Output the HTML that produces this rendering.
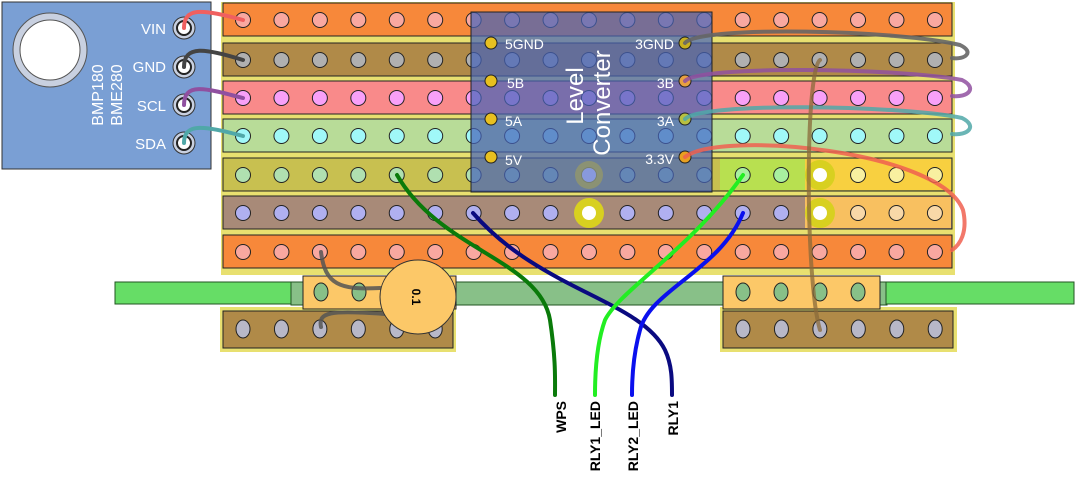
<!DOCTYPE html>
<html><head><meta charset="utf-8"><style>
html,body{margin:0;padding:0;background:#fff;width:1076px;height:481px;overflow:hidden}
svg{display:block;font-family:"Liberation Sans",sans-serif}
</style></head><body>
<svg id="s" width="1076" height="481" viewBox="0 0 1076 481" xmlns="http://www.w3.org/2000/svg">
<rect x="115" y="282" width="178" height="22" fill="#66dd66" stroke="#225522"/>
<rect x="291" y="282" width="596" height="23" fill="#88c088" stroke="#225522"/>
<rect x="886" y="282" width="188" height="22" fill="#66dd66" stroke="#225522"/>
<rect x="221" y="2" width="734" height="273" fill="#e8e070"/>
<g id="strips"></g>
<rect x="220" y="307" width="236" height="45" fill="#e8e070"/>
<rect x="223" y="311" width="230" height="37" fill="#b08a48" stroke="#222"/>
<rect x="303" y="276" width="153" height="33" fill="#fcc868" stroke="#222"/>
<rect x="720" y="307" width="237" height="45" fill="#e8e070"/>
<rect x="723" y="311" width="230" height="37" fill="#b08a48" stroke="#222"/>
<rect x="723" y="276" width="157" height="33" fill="#fcc868" stroke="#222"/>
<g id="lh"></g>
<rect x="2" y="2" width="209" height="167" fill="#7a9fd4" stroke="#333"/>
<circle cx="50" cy="50" r="37" fill="#c8d0e0" stroke="#555"/>
<circle cx="50" cy="50" r="30" fill="#fff" stroke="#555"/>
<g font-size="15" fill="#fff" text-anchor="end">
<text x="166" y="34">VIN</text><text x="166" y="72">GND</text><text x="166" y="111">SCL</text><text x="166" y="149">SDA</text>
</g>
<g font-size="16" fill="#fff" text-anchor="middle">
<text transform="translate(103,95) rotate(-90)">BMP180</text>
<text transform="translate(122,95) rotate(-90)">BME280</text>
</g>
<g id="pins"></g>
<rect x="471" y="12" width="241" height="180" fill="rgba(70,100,185,0.72)" stroke="#222"/>
<g font-size="14" fill="#fff">
<text x="505" y="49">5GND</text><text x="507" y="88">5B</text><text x="505" y="126">5A</text><text x="505" y="165">5V</text>
</g>
<g font-size="14" fill="#fff" text-anchor="end">
<text x="674" y="49">3GND</text><text x="674" y="88">3B</text><text x="674" y="126">3A</text><text x="674" y="164">3.3V</text>
</g>
<g font-size="24" fill="#fff" text-anchor="middle">
<text transform="translate(583,96) rotate(-90)">Level</text>
<text transform="translate(610,103) rotate(-90)">Converter</text>
</g>
<g stroke="#222" stroke-width="1">
<circle cx="491" cy="43" r="6" fill="#e8c020"/><circle cx="491" cy="81" r="6" fill="#e8c020"/>
<circle cx="491" cy="119" r="6" fill="#e8c020"/><circle cx="491" cy="157" r="6" fill="#e8c020"/>
<circle cx="685" cy="43" r="6" fill="#c8b020"/><circle cx="685" cy="81" r="6" fill="#e8a040"/>
<circle cx="685" cy="119" r="6" fill="#b8c040"/><circle cx="685" cy="157" r="6" fill="#e8a020"/>
</g>
<circle cx="589" cy="175" r="14" fill="rgba(160,160,90,0.6)"/><circle cx="589" cy="175" r="7" fill="#8899dd"/>
<circle cx="589" cy="213" r="15" fill="#d8d020"/><circle cx="589" cy="213" r="7" fill="#fff"/>
<circle cx="820" cy="175" r="15" fill="#d8d020"/><circle cx="820" cy="175" r="7" fill="#fff"/>
<circle cx="820" cy="213" r="15" fill="#d8d020"/><circle cx="820" cy="213" r="7" fill="#fff"/>
<g fill="none" stroke-width="4" stroke-linecap="round">
<path d="M184 28 C184 8 200 8 243 20" stroke="#f06060"/>
<path d="M184 67 C184 45 205 48 243 60" stroke="#444"/>
<path d="M184 105 C184 82 205 88 243 98" stroke="#9050a0"/>
<path d="M184 143 C184 122 205 126 243 136" stroke="#50a8a8"/>
<path d="M685 43 C700 25 900 30 960 45 C975 52 965 60 952 58" stroke="#666" opacity="0.9"/>
<path d="M685 81 C700 65 900 68 962 80 C978 88 968 98 952 96" stroke="#9050a0" opacity="0.85"/>
<path d="M685 119 C700 102 900 105 962 118 C978 126 968 136 952 134" stroke="#50a8a8" opacity="0.85"/>
<path d="M685 157 C720 130 940 150 963 210 C968 232 960 245 952 250" stroke="#f06050" opacity="0.85"/>
<path d="M820 60 C805 70 805 280 820 330" stroke="#8a6a3a" opacity="0.75"/>
<path d="M321 252 C325 285 340 290 380 288" stroke="#555" opacity="0.85"/>
<path d="M321 327 C318 312 330 310 385 314" stroke="#555" opacity="0.85"/>
</g>
<ellipse cx="418" cy="297" rx="38" ry="37" fill="#fcc868" stroke="#333"/>
<text transform="translate(412,297) rotate(90)" font-size="12" font-weight="bold" text-anchor="middle">0.1</text>
<g fill="none" stroke-width="4" stroke-linecap="round">
<path d="M397 175 C440 250 540 260 550 320 C556 360 555 380 555 395" stroke="#0a7a0a"/>
<path d="M473 213 C540 290 640 300 665 350 C672 365 672 380 672 395" stroke="#0a0a80"/>
<path d="M743 175 C690 250 620 290 605 320 C596 345 595 375 595 395" stroke="#22ee22"/>
<path d="M743 213 C720 270 650 290 640 330 C633 355 632 380 632 395" stroke="#0a10ee"/>
</g>
<g font-size="14" font-weight="bold" text-anchor="end">
<text transform="translate(566,401) rotate(-90)">WPS</text>
<text transform="translate(600,401) rotate(-90)">RLY1_LED</text>
<text transform="translate(638,401) rotate(-90)">RLY2_LED</text>
<text transform="translate(678,401) rotate(-90)">RLY1</text>
</g>
</svg>
<script>
var NS="http://www.w3.org/2000/svg";
function el(p,t,a){var e=document.createElementNS(NS,t);for(var k in a)e.setAttribute(k,a[k]);p.appendChild(e);return e;}
var g=document.getElementById("strips");
var ys=[20,60,98,136,175,213,252];
var sc=["#f7883a","#b08a48","#f98a8a","#b8dc98","#c8c050","#a88a78","#f7883a"];
var hc=["#f9a8a0","#b0b0b0","#f8a0f8","#a0f8f8","#b0e0b0","#b0b0f0","#f9a8a0"];
for(var r=0;r<7;r++){
 el(g,"rect",{x:223,y:ys[r]-17,width:729,height:33,fill:sc[r],stroke:"#222"});
 if(r==4){el(g,"rect",{x:720,y:ys[r]-16,width:85,height:31,fill:"#b8e050"});el(g,"rect",{x:805,y:ys[r]-16,width:146,height:31,fill:"#f8d040"});}
 if(r==5){el(g,"rect",{x:805,y:ys[r]-16,width:146,height:31,fill:"#f8c060"});}
 for(var i=0;i<19;i++){var x=243+i*38.44;var c=hc[r];
  if(r==4&&x>710)c=x>800?"#f8f0a0":"#a8f0a0";
  if(r==5&&x>800)c="#f8d8a8";
  el(g,"circle",{cx:x,cy:ys[r],r:7.5,fill:c,stroke:"#222"});}
}
var lh=document.getElementById("lh");
[321,359].forEach(function(x){el(lh,"ellipse",{cx:x,cy:292,rx:7,ry:9,fill:"#88c088",stroke:"#222"});});
[743,781,820,858].forEach(function(x){el(lh,"ellipse",{cx:x,cy:292,rx:7,ry:9,fill:"#88c088",stroke:"#222"});});
for(var i=0;i<6;i++){el(lh,"ellipse",{cx:243+i*38.44,cy:329,rx:7,ry:9,fill:"#b8b8c8",stroke:"#222"});el(lh,"ellipse",{cx:743+i*38.44,cy:329,rx:7,ry:9,fill:"#b8b8c8",stroke:"#222"});}
var p=document.getElementById("pins");
[28,67,105,143].forEach(function(y){el(p,"circle",{cx:184,cy:y,r:11,fill:"#c8d0e0",stroke:"#333"});el(p,"circle",{cx:184,cy:y,r:7,fill:"#fff",stroke:"#222","stroke-width":2});});
</script>
</body></html>
